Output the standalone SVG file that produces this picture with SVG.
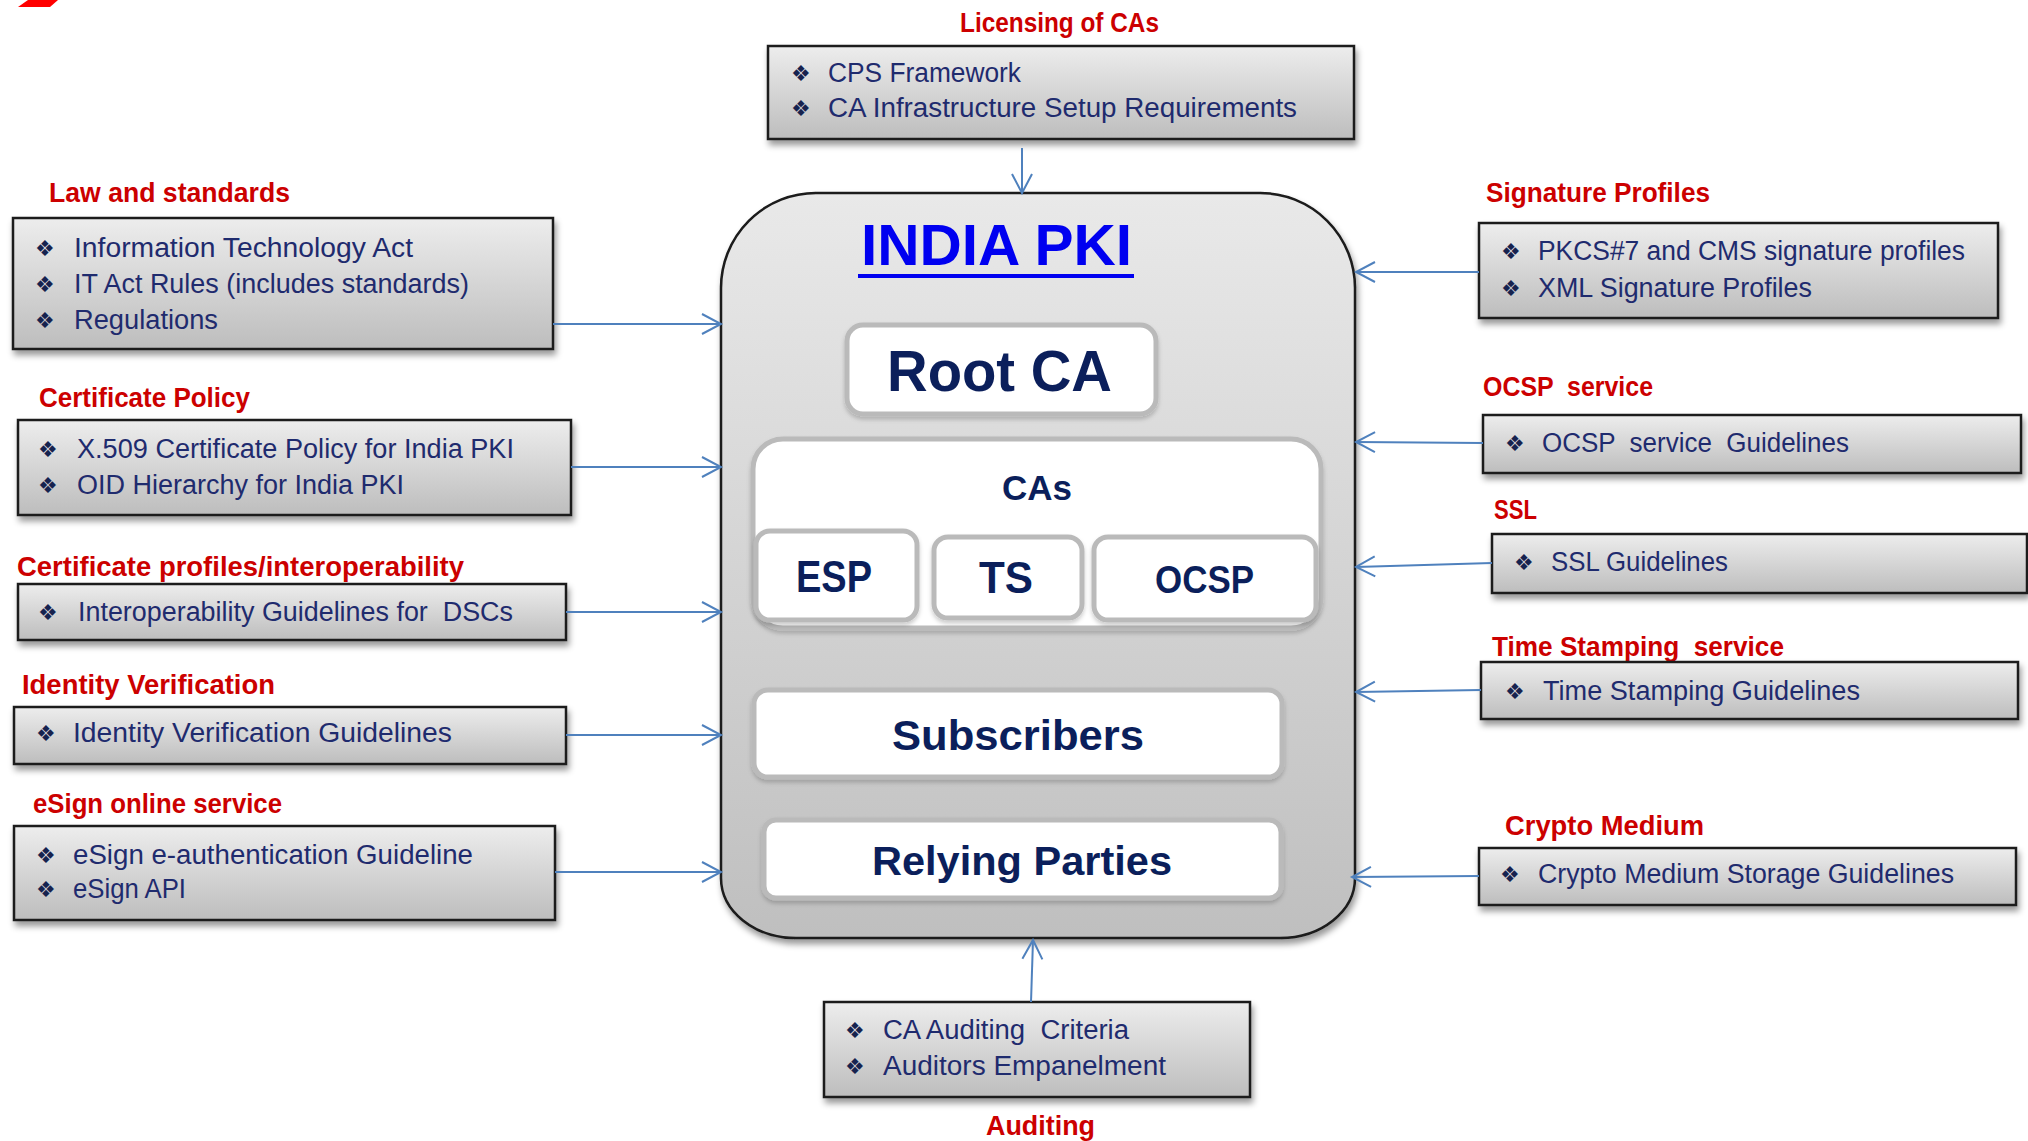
<svg xmlns="http://www.w3.org/2000/svg" width="2028" height="1141" viewBox="0 0 2028 1141">
<style>
.box{fill:url(#boxg);stroke:#1a1a1a;stroke-width:2.5;filter:url(#sh)}
.lbl{font-family:"Liberation Sans",Arial,sans-serif;font-weight:bold;font-size:27px;fill:#cc0000}
.itm{font-family:"Liberation Sans",Arial,sans-serif;font-size:27px;fill:#1f2b6e}
.bul{font-family:"DejaVu Sans",sans-serif;font-size:22px;fill:#16224f}
.conn{stroke:#4f81bd;stroke-width:2;fill:none;marker-end:url(#arr)}
.wbox{fill:#ffffff;stroke:#bababa;stroke-width:5;filter:url(#sh2)}
.ct{font-family:"Liberation Sans",Arial,sans-serif;font-weight:bold;fill:#0b1f5b}
</style>
<defs>
<linearGradient id="boxg" x1="0" y1="0" x2="0" y2="1">
<stop offset="0" stop-color="#ededed"/>
<stop offset="1" stop-color="#bdbdbd"/>
</linearGradient>
<linearGradient id="bigg" x1="0" y1="0" x2="0" y2="1">
<stop offset="0" stop-color="#e9e9e9"/>
<stop offset="1" stop-color="#bfbfbf"/>
</linearGradient>
<filter id="sh" x="-10%" y="-20%" width="120%" height="150%">
<feDropShadow dx="2" dy="5" stdDeviation="3" flood-color="#000" flood-opacity="0.4"/>
</filter>
<filter id="sh2" x="-10%" y="-20%" width="120%" height="150%">
<feDropShadow dx="0" dy="3" stdDeviation="2" flood-color="#000" flood-opacity="0.2"/>
</filter>
<marker id="arr" markerUnits="userSpaceOnUse" markerWidth="24" markerHeight="26" refX="21" refY="12" orient="auto">
<path d="M2,2 L21,12 L2,22" fill="none" stroke="#4f81bd" stroke-width="2"/>
</marker>
</defs>
<rect width="2028" height="1141" fill="#ffffff"/>
<polygon points="28,0 58,0 50,7 18,7" fill="#ff0000"/>

<g id="india-pki">
<path d="M816,193 H1260 A95,95 0 0 1 1355,288 V878 A75,60 0 0 1 1280,938 H796 A75,60 0 0 1 721,878 V288 A95,95 0 0 1 816,193 Z" fill="url(#bigg)" stroke="#1a1a1a" stroke-width="2.5" filter="url(#sh)"/>
<text x="861" y="265" font-family="'Liberation Sans',Arial,sans-serif" font-weight="bold" font-size="57" fill="#0000f0" textLength="271" lengthAdjust="spacingAndGlyphs">INDIA PKI</text>
<rect x="858" y="274" width="276" height="4" fill="#0000f0"/>
</g>
<g id="root-ca">
<rect class="wbox" x="847" y="325" width="309" height="89" rx="16"/>
<text class="ct" x="887" y="391" font-size="57" textLength="225" lengthAdjust="spacingAndGlyphs">Root CA</text>
</g>
<g id="cas">
<rect class="wbox" x="753" y="439" width="568" height="189" rx="30"/>
<text class="ct" x="1037" y="500" font-size="35" text-anchor="middle">CAs</text>
</g>
<g id="esp">
<rect class="wbox" x="756" y="531" width="161" height="89" rx="14"/>
<text class="ct" x="796" y="592" font-size="44" textLength="76" lengthAdjust="spacingAndGlyphs">ESP</text>
</g>
<g id="ts">
<rect class="wbox" x="934" y="537" width="148" height="81" rx="14"/>
<text class="ct" x="979" y="593" font-size="45" textLength="54" lengthAdjust="spacingAndGlyphs">TS</text>
</g>
<g id="ocsp">
<rect class="wbox" x="1094" y="537" width="222" height="83" rx="14"/>
<text class="ct" x="1155" y="593" font-size="38" textLength="99" lengthAdjust="spacingAndGlyphs">OCSP</text>
</g>
<g id="subscribers">
<rect class="wbox" x="754" y="690" width="528" height="87" rx="14" stroke="#d4d4d4"/>
<text class="ct" x="892" y="750" font-size="42" textLength="252" lengthAdjust="spacingAndGlyphs">Subscribers</text>
</g>
<g id="relying-parties">
<rect class="wbox" x="764" y="820" width="517" height="78" rx="12" stroke="#d4d4d4"/>
<text class="ct" x="872" y="875" font-size="40" textLength="300" lengthAdjust="spacingAndGlyphs">Relying Parties</text>
</g>

<g id="law">
<text class="lbl" x="49" y="202" textLength="241" lengthAdjust="spacingAndGlyphs">Law and standards</text>
<rect class="box" x="13" y="218" width="540" height="131"/>
<text class="bul" x="35" y="256">❖</text>
<text class="itm" x="74" y="257" textLength="339" lengthAdjust="spacingAndGlyphs">Information Technology Act</text>
<text class="bul" x="35" y="292">❖</text>
<text class="itm" x="74" y="293" textLength="395" lengthAdjust="spacingAndGlyphs">IT Act Rules (includes standards)</text>
<text class="bul" x="35" y="328">❖</text>
<text class="itm" x="74" y="329" textLength="144" lengthAdjust="spacingAndGlyphs">Regulations</text>
</g>
<g id="cert-policy">
<text class="lbl" x="39" y="407" textLength="211" lengthAdjust="spacingAndGlyphs">Certificate Policy</text>
<rect class="box" x="18" y="420" width="553" height="95"/>
<text class="bul" x="38" y="457">❖</text>
<text class="itm" x="77" y="458" textLength="437" lengthAdjust="spacingAndGlyphs">X.509 Certificate Policy for India PKI</text>
<text class="bul" x="38" y="493">❖</text>
<text class="itm" x="77" y="494" textLength="327" lengthAdjust="spacingAndGlyphs">OID Hierarchy for India PKI</text>
</g>
<g id="cert-profiles">
<text class="lbl" x="17" y="576" textLength="447" lengthAdjust="spacingAndGlyphs">Certificate profiles/interoperability</text>
<rect class="box" x="18" y="584" width="548" height="56"/>
<text class="bul" x="38" y="620">❖</text>
<text class="itm" x="78" y="621" textLength="435" lengthAdjust="spacingAndGlyphs" xml:space="preserve">Interoperability Guidelines for  DSCs</text>
</g>
<g id="identity">
<text class="lbl" x="22" y="694" textLength="253" lengthAdjust="spacingAndGlyphs">Identity Verification</text>
<rect class="box" x="14" y="707" width="552" height="57"/>
<text class="bul" x="36" y="741">❖</text>
<text class="itm" x="73" y="742" textLength="379" lengthAdjust="spacingAndGlyphs">Identity Verification Guidelines</text>
</g>
<g id="esign">
<text class="lbl" x="33" y="813" textLength="249" lengthAdjust="spacingAndGlyphs">eSign online service</text>
<rect class="box" x="14" y="826" width="541" height="94"/>
<text class="bul" x="36" y="863">❖</text>
<text class="itm" x="73" y="864" textLength="400" lengthAdjust="spacingAndGlyphs">eSign e-authentication Guideline</text>
<text class="bul" x="36" y="897">❖</text>
<text class="itm" x="73" y="898" textLength="113" lengthAdjust="spacingAndGlyphs">eSign API</text>
</g>
<g id="licensing">
<text class="lbl" x="960" y="32" textLength="199" lengthAdjust="spacingAndGlyphs">Licensing of CAs</text>
<rect class="box" x="768" y="46" width="586" height="93"/>
<text class="bul" x="791" y="81">❖</text>
<text class="itm" x="828" y="82" textLength="193" lengthAdjust="spacingAndGlyphs">CPS Framework</text>
<text class="bul" x="791" y="116">❖</text>
<text class="itm" x="828" y="117" textLength="469" lengthAdjust="spacingAndGlyphs">CA Infrastructure Setup Requirements</text>
</g>
<g id="auditing">
<rect class="box" x="824" y="1002" width="426" height="95"/>
<text class="bul" x="845" y="1038">❖</text>
<text class="itm" x="883" y="1039" textLength="246" lengthAdjust="spacingAndGlyphs" xml:space="preserve">CA Auditing  Criteria</text>
<text class="bul" x="845" y="1074">❖</text>
<text class="itm" x="883" y="1075" textLength="283" lengthAdjust="spacingAndGlyphs">Auditors Empanelment</text>
<text class="lbl" x="986" y="1135" textLength="109" lengthAdjust="spacingAndGlyphs">Auditing</text>
</g>
<g id="signature">
<text class="lbl" x="1486" y="202" textLength="224" lengthAdjust="spacingAndGlyphs">Signature Profiles</text>
<rect class="box" x="1479" y="223" width="519" height="95"/>
<text class="bul" x="1501" y="259">❖</text>
<text class="itm" x="1538" y="260" textLength="427" lengthAdjust="spacingAndGlyphs">PKCS#7 and CMS signature profiles</text>
<text class="bul" x="1501" y="296">❖</text>
<text class="itm" x="1538" y="297" textLength="274" lengthAdjust="spacingAndGlyphs">XML Signature Profiles</text>
</g>
<g id="ocsp-service">
<text class="lbl" x="1483" y="396" textLength="170" lengthAdjust="spacingAndGlyphs" xml:space="preserve">OCSP  service</text>
<rect class="box" x="1483" y="415" width="538" height="58"/>
<text class="bul" x="1505" y="451">❖</text>
<text class="itm" x="1542" y="452" textLength="307" lengthAdjust="spacingAndGlyphs" xml:space="preserve">OCSP  service  Guidelines</text>
</g>
<g id="ssl">
<text class="lbl" x="1494" y="519" textLength="43" lengthAdjust="spacingAndGlyphs">SSL</text>
<rect class="box" x="1492" y="534" width="535" height="59"/>
<text class="bul" x="1514" y="570">❖</text>
<text class="itm" x="1551" y="571" textLength="177" lengthAdjust="spacingAndGlyphs">SSL Guidelines</text>
</g>
<g id="time-stamping">
<text class="lbl" x="1492" y="656" textLength="292" lengthAdjust="spacingAndGlyphs" xml:space="preserve">Time Stamping  service</text>
<rect class="box" x="1481" y="662" width="537" height="57"/>
<text class="bul" x="1505" y="699">❖</text>
<text class="itm" x="1543" y="700" textLength="317" lengthAdjust="spacingAndGlyphs">Time Stamping Guidelines</text>
</g>
<g id="crypto">
<text class="lbl" x="1505" y="835" textLength="199" lengthAdjust="spacingAndGlyphs">Crypto Medium</text>
<rect class="box" x="1479" y="848" width="537" height="57"/>
<text class="bul" x="1500" y="882">❖</text>
<text class="itm" x="1538" y="883" textLength="416" lengthAdjust="spacingAndGlyphs">Crypto Medium Storage Guidelines</text>
</g>

<g id="connectors">
<line class="conn" x1="553" y1="324" x2="721" y2="324"/>
<line class="conn" x1="571" y1="467" x2="721" y2="467"/>
<line class="conn" x1="566" y1="612" x2="721" y2="612"/>
<line class="conn" x1="566" y1="735" x2="721" y2="735"/>
<line class="conn" x1="555" y1="872" x2="721" y2="872"/>
<line class="conn" x1="1022" y1="148" x2="1022" y2="193"/>
<line class="conn" x1="1031" y1="1002" x2="1033" y2="940"/>
<line class="conn" x1="1479" y1="272" x2="1356" y2="272"/>
<line class="conn" x1="1483" y1="443" x2="1356" y2="442"/>
<line class="conn" x1="1492" y1="563" x2="1356" y2="567"/>
<line class="conn" x1="1481" y1="690" x2="1356" y2="692"/>
<line class="conn" x1="1479" y1="876" x2="1352" y2="877"/>
</g>
</svg>
